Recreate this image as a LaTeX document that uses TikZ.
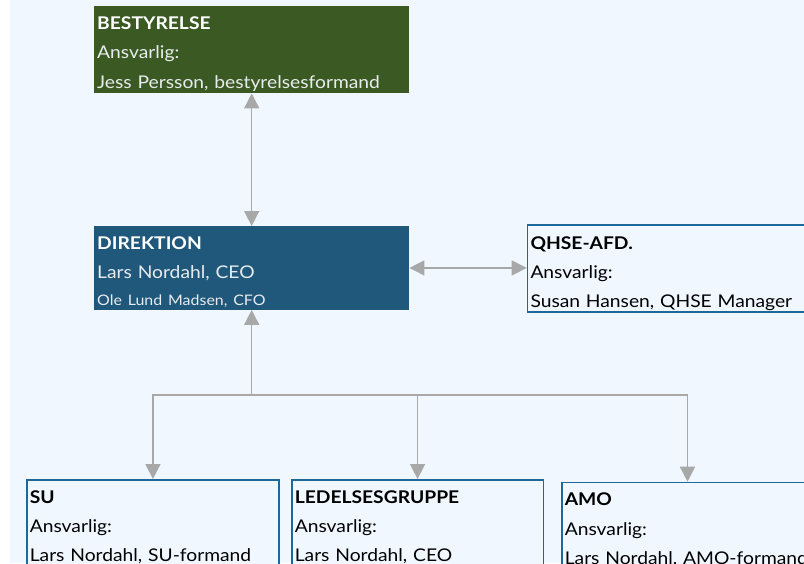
\documentclass[tikz,border=0pt]{standalone}
\usepackage{fontspec}
\setmainfont{Lato}[FakeStretch=1.1]
\usepackage{xcolor}
\usepackage{tikz}
\usetikzlibrary{arrows.meta}

\definecolor{bgblue}{HTML}{F0F7FE}
\definecolor{boardgreen}{HTML}{3B5A23}
\definecolor{mgmtblue}{HTML}{1F587B}
\definecolor{frameblue}{HTML}{1D6A9A}
\definecolor{linkgray}{HTML}{A8A8A8}
\definecolor{softwhite}{HTML}{E8ECEF}

\newcommand{\boxfont}{\fontsize{17.5}{29.3}\selectfont}

\tikzset{
  orgbox/.style={anchor=north west, rectangle, align=left, inner xsep=3pt, inner ysep=0pt,
    text width=#1, font=\boxfont, text height=23.3pt},
  darkbox/.style={orgbox=#1, text=softwhite},
  lightbox/.style={orgbox=#1, draw=frameblue, line width=1.6pt, fill=bgblue, text=black, text depth=70pt},
  link/.style={draw=linkgray, line width=1.5pt},
  tip/.style={-{Triangle[width=15pt,length=15pt]}},
  tips/.style={{Triangle[width=15pt,length=15pt]}-{Triangle[width=15pt,length=15pt]}}
}

\begin{document}
\begin{tikzpicture}[x=1pt,y=-1pt]
\useasboundingbox (0,0) rectangle (804,563);
\clip (0,0) rectangle (804,563);
\fill[bgblue] (10,0) rectangle (804,563);

\node[darkbox=309pt, fill=boardgreen, text depth=63.7pt] (bestyrelse) at (94,6)
  {\textbf{\color{white}BESTYRELSE}\\Ansvarlig:\\Jess Persson, bestyrelsesformand};
\node[darkbox=309pt, fill=mgmtblue, text depth=60.2pt] (direktion) at (94,226)
  {\textbf{\color{white}DIREKTION}\\Lars Nordahl, CEO\\[-3pt]{\fontsize{14.5}{26}\selectfont Ole Lund Madsen, CFO}};
\node[lightbox=290pt, text height=24pt, text depth=62.7pt] (qhse) at (526.7,224.3)
  {\textbf{QHSE-AFD.}\\Ansvarlig:\\Susan Hansen, QHSE Manager};

\node[lightbox=246.3pt] (su) at (26,479)
  {\textbf{SU}\\Ansvarlig:\\Lars Nordahl, SU-formand};
\node[lightbox=245.5pt] (ledelse) at (291,479)
  {\textbf{LEDELSESGRUPPE}\\Ansvarlig:\\Lars Nordahl, CEO};
\node[lightbox=245.4pt] (amo) at (561,481.7)
  {\textbf{AMO}\\Ansvarlig:\\Lars Nordahl, AMO-formand};

\draw[link, tips] (bestyrelse.south) -- (direktion.north);
\draw[link, tips] (direktion.east) -- (direktion.east -| qhse.west);

\coordinate (split) at (direktion.south |- 0,395);
\draw[link, tip] (split) -- (direktion.south);
\draw[link, tip] (split) -| (su.north);
\draw[link, tip] (split) -| (ledelse.north);
\draw[link, tip] (split) -| (amo.north);
\end{tikzpicture}
\end{document}
